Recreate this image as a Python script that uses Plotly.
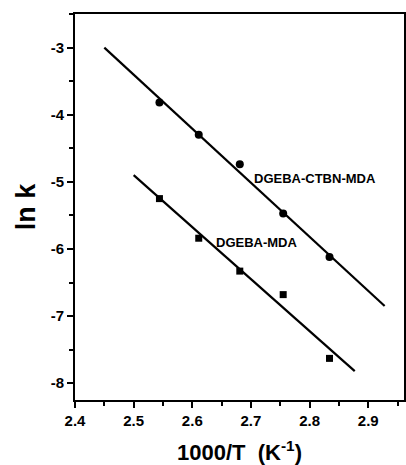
import plotly.graph_objects as go

# Data
x_pts = [2.544, 2.611, 2.681, 2.755, 2.834]
ctbn_lnk = [-3.82, -4.30, -4.74, -5.47, -6.12]
mda_lnk = [-5.25, -5.84, -6.33, -6.68, -7.63]

ctbn_fit_x = [2.45, 2.928]
ctbn_fit_y = [-3.00, -6.85]
mda_fit_x = [2.50, 2.877]
mda_fit_y = [-4.90, -7.82]

x_ticks = [2.4, 2.5, 2.6, 2.7, 2.8, 2.9]
y_ticks = [-3, -4, -5, -6, -7, -8]

FONT = "Liberation Sans, Arial, sans-serif"

fig = go.Figure()
fig.add_trace(go.Scatter(x=ctbn_fit_x, y=ctbn_fit_y, mode="lines",
                         line=dict(color="black", width=2.2), showlegend=False))
fig.add_trace(go.Scatter(x=mda_fit_x, y=mda_fit_y, mode="lines",
                         line=dict(color="black", width=2.2), showlegend=False))
fig.add_trace(go.Scatter(x=x_pts, y=ctbn_lnk, mode="markers", name="DGEBA-CTBN-MDA",
                         marker=dict(symbol="circle", size=8, color="black"), showlegend=False))
fig.add_trace(go.Scatter(x=x_pts, y=mda_lnk, mode="markers", name="DGEBA-MDA",
                         marker=dict(symbol="square", size=7, color="black"), showlegend=False))

fig.add_annotation(x=2.702, y=-4.95, text="DGEBA-CTBN-MDA", showarrow=False,
                   xanchor="left", yanchor="middle",
                   font=dict(family=FONT, size=13, color="black", weight="bold"))
fig.add_annotation(x=2.637, y=-5.90, text="DGEBA-MDA", showarrow=False,
                   xanchor="left", yanchor="middle",
                   font=dict(family=FONT, size=13, color="black", weight="bold"))

fig.update_layout(
    width=406, height=465,
    margin=dict(l=75, r=0, t=14, b=65),
    plot_bgcolor="white", paper_bgcolor="white",
    font=dict(family=FONT, color="black"),
)
fig.update_xaxes(
    range=[2.4, 2.961], tickvals=x_ticks, ticktext=[f"{v:.1f}" for v in x_ticks],
    ticks="outside", ticklen=6, tickwidth=2, tickcolor="black",
    minor=dict(dtick=0.05, tick0=2.4, ticks="outside", ticklen=4, tickwidth=1.5, tickcolor="black"),
    showline=True, linecolor="black", linewidth=2, mirror=True,
    showgrid=False, zeroline=False,
    tickfont=dict(family=FONT, size=15, color="black", weight="bold"),
    title=dict(text="1000/T  (K<sup>-1</sup>)",
               font=dict(family=FONT, size=22, color="black", weight="bold"), standoff=18),
)
fig.update_yaxes(
    range=[-8.25, -2.5], tickvals=y_ticks, ticktext=[f"{v}" for v in y_ticks],
    ticks="outside", ticklen=6, tickwidth=2, tickcolor="black",
    minor=dict(dtick=0.5, tick0=-3, ticks="outside", ticklen=4, tickwidth=1.5, tickcolor="black"),
    showline=True, linecolor="black", linewidth=2, mirror=True,
    showgrid=False, zeroline=False,
    tickfont=dict(family=FONT, size=15, color="black", weight="bold"),
    title=dict(text="ln k", font=dict(family=FONT, size=27, color="black", weight="bold"), standoff=7),
)

fig.write_html("out.html")
